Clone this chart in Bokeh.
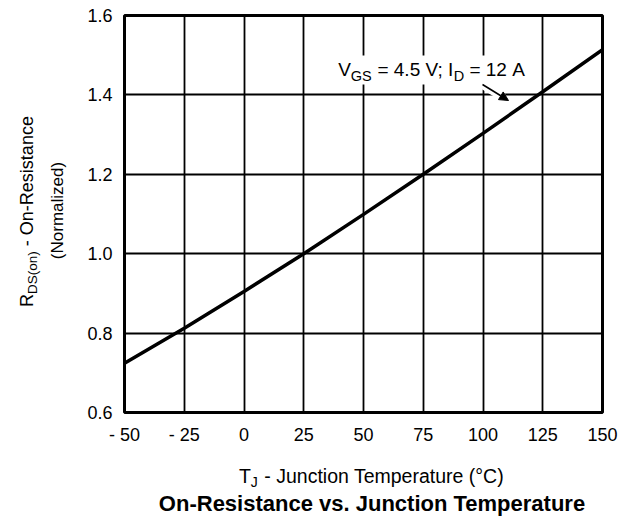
import math

from bokeh.embed import file_html
from bokeh.layouts import column, row
from bokeh.models import Arrow, BoxAnnotation, FixedTicker, Label, NormalHead
from bokeh.plotting import figure
from bokeh.resources import INLINE

# Normalized on-resistance versus junction temperature
temperature_c = [-50, -25, 0, 25, 50, 75, 100, 125, 150]
rds_on_norm = [0.724, 0.812, 0.905, 1.0, 1.099, 1.2, 1.303, 1.408, 1.514]

x_ticks = [-50, -25, 0, 25, 50, 75, 100, 125, 150]
x_tick_labels = ["- 50", "- 25", "0", "25", "50", "75", "100", "125", "150"]
y_ticks = [0.6, 0.8, 1.0, 1.2, 1.4, 1.6]
y_tick_labels = ["0.6", "0.8", "1.0", "1.2", "1.4", "1.6"]

W, H = 632, 517
TITLE_W = 82          # strip left of the chart holding the y title
CAPTION_H = 65        # strip below the chart holding x title and caption
LEFT, RIGHT, TOP, BOTTOM = 124, 30, 15, 105   # frame margins on the full page
FONT = "Liberation Sans"

MAIN_W, MAIN_H = W - TITLE_W, H - CAPTION_H
FX0, FX1 = LEFT, W - RIGHT          # frame edges in page pixels
FY0, FY1 = TOP, H - BOTTOM

p = figure(
    width=MAIN_W, height=MAIN_H,
    x_range=(x_ticks[0], x_ticks[-1]), y_range=(y_ticks[0], y_ticks[-1]),
    output_backend="svg", toolbar_location=None, title_location=None,
    min_border_left=LEFT - TITLE_W, min_border_right=RIGHT,
    min_border_top=TOP, min_border_bottom=MAIN_H - FY1,
)
p.background_fill_color = "white"
p.border_fill_color = "white"
p.outline_line_color = "black"
p.outline_line_width = 3

for ax, ticks, labels in ((p.xaxis[0], x_ticks, x_tick_labels), (p.yaxis[0], y_ticks, y_tick_labels)):
    ax.ticker = FixedTicker(ticks=ticks)
    ax.major_label_overrides = {t: s for t, s in zip(ticks, labels)}
    ax.axis_line_color = None
    ax.major_tick_line_color = None
    ax.minor_tick_line_color = None
    ax.major_label_text_font = FONT
    ax.major_label_text_font_size = "18px"
    ax.major_label_text_color = "black"
p.xaxis.major_label_standoff = 6
p.yaxis.major_label_standoff = 6

for g in (p.xgrid[0], p.ygrid[0]):
    g.grid_line_color = "black"
    g.grid_line_width = 1.8
    g.grid_line_alpha = 1.0
p.xgrid.ticker = FixedTicker(ticks=x_ticks)
p.ygrid.ticker = FixedTicker(ticks=y_ticks)


def px_x(px):
    return x_ticks[0] + (px - FX0) / (FX1 - FX0) * (x_ticks[-1] - x_ticks[0])


def px_y(py):
    return y_ticks[0] + (FY1 - py) / (FY1 - FY0) * (y_ticks[-1] - y_ticks[0])


def text_strip(w, h, y0, y1, top=0, bottom=0):
    """A blank figure whose data units are page pixels, y growing downward."""
    f = figure(width=w, height=h, x_range=(0, w), y_range=(y1, y0),
               output_backend="svg", toolbar_location=None, title_location=None,
               x_axis_location=None, y_axis_location=None,
               min_border_left=0, min_border_right=0,
               min_border_top=top, min_border_bottom=bottom)
    f.outline_line_color = None
    f.background_fill_color = "white"
    f.border_fill_color = "white"
    f.grid.visible = False
    return f


# the left strip shares the chart's frame rows, so its y units are page pixels
left_strip = text_strip(TITLE_W, MAIN_H, FY0, FY1, top=TOP, bottom=MAIN_H - FY1)
bottom_strip = text_strip(W, CAPTION_H, MAIN_H, H)

# Helvetica/Arial advance widths (1/1000 em) for laying out mixed-size text runs
ADV = {
    " ": 278, "\u00a0": 278, "-": 333, "=": 584, ".": 278, ";": 278, "(": 333, ")": 333,
    "°": 400, "A": 667, "C": 722, "D": 722, "G": 778, "I": 278, "J": 500, "N": 722,
    "O": 778, "R": 722, "S": 667, "T": 611, "V": 667,
    "a": 556, "c": 500, "d": 556, "e": 556, "i": 222, "l": 222, "m": 833, "n": 556,
    "o": 556, "p": 556, "r": 333, "s": 500, "t": 278, "u": 556, "z": 500, "v": 500,
}
NB = "\u00a0"
BASE_SHIFT = 0.33     # Label's alphabetic anchor sits this many em above the drawn baseline


def text_w(s, size):
    return sum(ADV.get(ch, 556) for ch in s) / 1000.0 * size


def label(fig, x, y, text, size, bold=False, vertical=False, align="center"):
    """Place text with its baseline at page pixel (x, y)."""
    if vertical:
        x -= BASE_SHIFT * size
    else:
        y -= BASE_SHIFT * size
    if fig is p:
        kw = dict(x=x_ticks[0], y=y_ticks[0], x_offset=x - FX0, y_offset=FY1 - y)
    else:
        kw = dict(x=x, y=y)
    fig.add_layout(Label(
        text=text, text_font=FONT, text_font_size=f"{size}px",
        text_font_style="bold" if bold else "normal", text_color="black",
        angle=math.pi / 2 if vertical else 0.0,
        text_align=align, text_baseline="alphabetic", **kw,
    ))


def runs_h(fig, cx, baseline, parts):
    total = sum(text_w(t, s) for t, s, _ in parts)
    x = cx - total / 2
    for t, s, shift in parts:
        w = text_w(t, s)
        label(fig, x + w / 2, baseline + shift, t, s)
        x += w


def runs_v(fig, baseline_x, cy, parts):
    total = sum(text_w(t, s) for t, s, _ in parts)
    y = cy + total / 2
    for t, s, shift in parts:
        w = text_w(t, s)
        label(fig, baseline_x + shift, y - w / 2, t, s, vertical=True)
        y -= w


# white backing behind the condition note and its leader
p.add_layout(BoxAnnotation(
    left=px_x(330), right=px_x(531), top=px_y(55), bottom=px_y(84),
    fill_color="white", fill_alpha=1.0, line_alpha=0.0,
))
p.add_layout(Arrow(
    x_start=px_x(478), y_start=px_y(82), x_end=px_x(503), y_end=px_y(97),
    line_color="white", line_width=8, end=None,
))

p.line(temperature_c, rds_on_norm, line_color="black", line_width=3.5)

p.add_layout(Arrow(
    x_start=px_x(482), y_start=px_y(84), x_end=px_x(508), y_end=px_y(100),
    line_color="black", line_width=1.5,
    end=NormalHead(size=9, fill_color="black", line_color="black", line_width=1),
))

# condition note: V_GS = 4.5 V; I_D = 12 A
runs_h(p, 431, 75, [
    ("V", 19, 0), ("GS", 14.5, 5), (NB + "=" + NB + "4.5" + NB + "V;" + NB + "I", 19, 0),
    ("D", 14.5, 5), (NB + "=" + NB + "12" + NB + "A", 19, 0),
])

# y-axis title, two rotated lines
runs_v(left_strip, 32, 211, [("R", 18, 0), ("DS(on)", 13.5, 4),
                             (NB + "-" + NB + "On-Resistance", 18, 0)])
label(left_strip, 63, 210, "(Normalized)", 17, vertical=True)

# x-axis title and chart caption
runs_h(bottom_strip, 371.5, 482, [("T", 19.5, 0), ("J", 14, 4),
                                  (NB + "-" + NB + "Junction Temperature (°C)", 19.5, 0)])
label(bottom_strip, 371.5, 510, "On-Resistance vs. Junction Temperature", 22, bold=True)

page = column(row(left_strip, p, spacing=0), bottom_strip, spacing=0)
open("out.html", "w").write(file_html(page, INLINE))
